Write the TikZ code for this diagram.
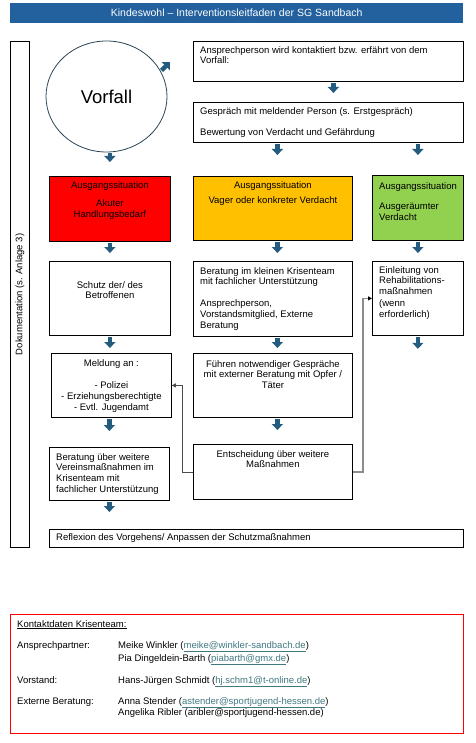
\documentclass[tikz,border=0pt]{standalone}
\usepackage{fontspec}
\setmainfont{Liberation Sans}
\usetikzlibrary{arrows.meta,positioning,shapes.geometric}
\definecolor{titleblue}{RGB}{34,96,158}
\definecolor{flowblue}{RGB}{36,92,128}
\definecolor{acute}{RGB}{255,0,0}
\definecolor{suspect}{RGB}{255,192,0}
\definecolor{cleared}{RGB}{146,208,80}
\definecolor{rimgray}{RGB}{45,70,85}
\definecolor{mailcol}{RGB}{64,120,128}
\newcommand{\boxfont}{\fontsize{9.5}{10.8}\selectfont}
\newcommand{\mail}[1]{\textcolor{mailcol}{\underline{#1}}}
\tikzset{
    %Define standard arrow tip
    >={Triangle[length=4pt,width=4pt]},
    %Define style for boxes
    stage/.style={
           rectangle,
           draw=black, line width=0.8pt,
           inner sep=0pt,
           anchor=north west},
    annote/.style={
          font=\boxfont,
          inner sep=0pt},
    % Define block arrow style
    flow/.style={
           -{Triangle[width=11pt,length=6pt]},
           draw=flowblue,
           line width=4.5pt,
           shorten <=1pt,
           shorten >=#1},
    flow/.default=8pt,
    % Define feedback line style
    feedback/.style={
           ->,
           line width=0.8pt,
           draw=black!70},
}

\begin{document}
\begin{tikzpicture}[x=1pt,y=-1pt]
\useasboundingbox (0,0) rectangle (475,743);
% title bar
\node[fill=titleblue, text=white, font=\fontsize{10.5}{12}\selectfont, minimum width=453pt, minimum height=20pt, inner sep=0pt, anchor=north west] (title) at (10,3) {Kindeswohl – Interventionsleitfaden der SG Sandbach};
% documentation column
\node[stage, minimum width=19pt, minimum height=506pt] (doku) at (10,41) {};
\node[annote, rotate=90] (dokutxt) at (doku.center) {Dokumentation (s. Anlage 3)};
% incident
\node[ellipse, draw=rimgray, line width=0.8pt, minimum width=121pt, minimum height=111pt, inner sep=0pt, font=\fontsize{18.5}{20}\selectfont] (vorfall) at (106.5,96.5) {Vorfall};
\coordinate (vorfalltip) at (170,62);
\node[stage, minimum width=270pt, minimum height=40pt] (kontakt) at (193,41) {};
\node[annote, align=left, below right=5pt and 7pt of kontakt.north west] (kontakttxt) {Ansprechperson wird kontaktiert bzw. erfährt von dem\\Vorfall:};
\node[stage, minimum width=270pt, minimum height=40pt] (gespraech) at (193,102) {};
\node[annote, align=left, below right=5pt and 7pt of gespraech.north west] (gespraechtxt) {Gespräch mit meldender Person (s. Erstgespräch)\\[11pt]Bewertung von Verdacht und Gefährdung};
% starting situations
\node[stage, fill=acute, minimum width=121pt, minimum height=65pt] (akut) at (49,176) {};
\node[annote, align=center, below=5pt of akut.north] (akuttxt) {Ausgangssituation\\[8pt]Akuter\\Handlungsbedarf};
\node[stage, fill=suspect, minimum width=159pt, minimum height=64pt] (verdacht) at (193,176) {};
\node[annote, align=center, below=5pt of verdacht.north] (verdachttxt) {Ausgangssituation\\[5pt]Vager oder konkreter Verdacht};
\node[stage, fill=cleared, minimum width=91pt, minimum height=65pt] (entlastet) at (372,175) {};
\node[annote, align=left, below right=7pt and 7pt of entlastet.north west] (entlastettxt) {Ausgangssituation\\[10pt]Ausgeräumter\\Verdacht};
% measures
\node[stage, minimum width=121pt, minimum height=74pt] (schutz) at (49,261) {};
\node[annote, align=center, below=20pt of schutz.north] (schutztxt) {Schutz der/ des\\Betroffenen};
\node[stage, minimum width=159pt, minimum height=75pt] (beratung) at (193,261) {};
\node[annote, align=left, below right=6pt and 7pt of beratung.north west] (beratungtxt) {Beratung im kleinen Krisenteam\\mit fachlicher Unterstützung\\[11pt]Ansprechperson,\\Vorstandsmitglied, Externe\\Beratung};
\node[stage, minimum width=91pt, minimum height=74pt] (reha) at (372,261) {};
\node[annote, align=left, below right=5pt and 7pt of reha.north west] (rehatxt) {Einleitung von\\Rehabilitations-\\maßnahmen\\[1pt](wenn\\erforderlich)};
\coordinate (rehaend) at ([yshift=-13pt]reha.south);
\node[stage, minimum width=120pt, minimum height=64pt] (meldung) at (51,353) {};
\node[annote, align=center, below=6pt of meldung.north] (meldungtxt) {Meldung an :\\[12pt]- Polizei\\- Erziehungsberechtigte\\- Evtl. Jugendamt};
\node[stage, minimum width=159pt, minimum height=64pt] (gespraeche) at (193,353) {};
\node[annote, align=center, below=7pt of gespraeche.north] (gespraechetxt) {Führen notwendiger Gespräche\\mit externer Beratung mit Opfer /\\Täter};
\node[stage, minimum width=120pt, minimum height=53pt] (verein) at (49,447) {};
\node[annote, align=left, below right=6pt and 7pt of verein.north west] (vereintxt) {Beratung über weitere\\Vereinsmaßnahmen im\\Krisenteam mit\\fachlicher Unterstützung};
\node[stage, minimum width=159pt, minimum height=55pt] (entscheidung) at (193,444) {};
\node[annote, align=center, below=6pt of entscheidung.north] (entscheidungtxt) {Entscheidung über weitere\\Maßnahmen};
\node[stage, minimum width=414pt, minimum height=18pt] (reflexion) at (49,529) {};
\node[annote, anchor=west, right=7pt of reflexion.west] (reflexiontxt) {Reflexion des Vorgehens/ Anpassen der Schutzmaßnahmen};
% block arrows
\draw[flow=0pt] (vorfall.25) -- (vorfalltip);
\draw[flow=14pt] (akut.north |- vorfall.south) -- (akut.north);
\draw[flow=9pt] ([xshift=5pt]kontakt.south) -- ([xshift=5pt]gespraech.north);
\draw[flow=21pt] ([xshift=4.5pt]verdacht.north |- gespraech.south) -- ([xshift=4.5pt]verdacht.north);
\draw[flow=20pt] (entlastet.north |- gespraech.south) -- (entlastet.north);
\draw[flow] (akut.south) -- (schutz.north);
\draw[flow] ([xshift=4.5pt]verdacht.south) -- ([xshift=4.5pt]beratung.north);
\draw[flow] (entlastet.south) -- (reha.north);
\draw[flow=5pt] (schutz.south) -- (schutz.south |- meldung.north);
\draw[flow=5pt] ([xshift=4.5pt]beratung.south) -- ([xshift=4.5pt]gespraeche.north);
\draw[flow=0pt] (reha.south) -- (rehaend);
\draw[flow=16pt] (verein.north |- meldung.south) -- (verein.north);
\draw[flow=14pt] ([xshift=4.5pt]gespraeche.south) -- ([xshift=4.5pt]entscheidung.north);
\draw[flow=17pt] (verein.south) -- (verein.south |- reflexion.north);
% feedback lines
\draw[feedback] (entscheidung.west) -- ++(-11,0) |- (meldung.east);
\draw[feedback, draw=black!45, line width=1.6pt, -{Triangle[length=4pt,width=4pt,color=black]}] (entscheidung.east) -- ++(10,0) |- (reha.west);
% contact data
\node[stage, draw=red, minimum width=453pt, minimum height=119pt] (kontaktdaten) at (10,614) {};
\node[annote, anchor=base west] (kontaktkopf) at (17,627) {\underline{Kontaktdaten Krisenteam:}};
\node[annote, anchor=base west] (ansprechlbl) at (17,648) {Ansprechpartner:};
\node[annote, anchor=base west] (winkler) at (118,648) {Meike Winkler (\mail{meike@winkler-sandbach.de})};
\node[annote, anchor=base west] (dingeldein) at (118,661) {Pia Dingeldein-Barth (\mail{piabarth@gmx.de})};
\node[annote, anchor=base west] (vorstandlbl) at (17,683) {Vorstand:};
\node[annote, anchor=base west] (schmidt) at (118,683) {Hans-Jürgen Schmidt (\mail{hj.schm1@t-online.de})};
\node[annote, anchor=base west] (externlbl) at (17,704) {Externe Beratung:};
\node[annote, anchor=base west] (stender) at (118,704) {Anna Stender (\mail{astender@sportjugend-hessen.de})};
\node[annote, anchor=base west] (ribler) at (118,715) {Angelika Ribler (aribler@sportjugend-hessen.de)};
\end{tikzpicture}
\end{document}
